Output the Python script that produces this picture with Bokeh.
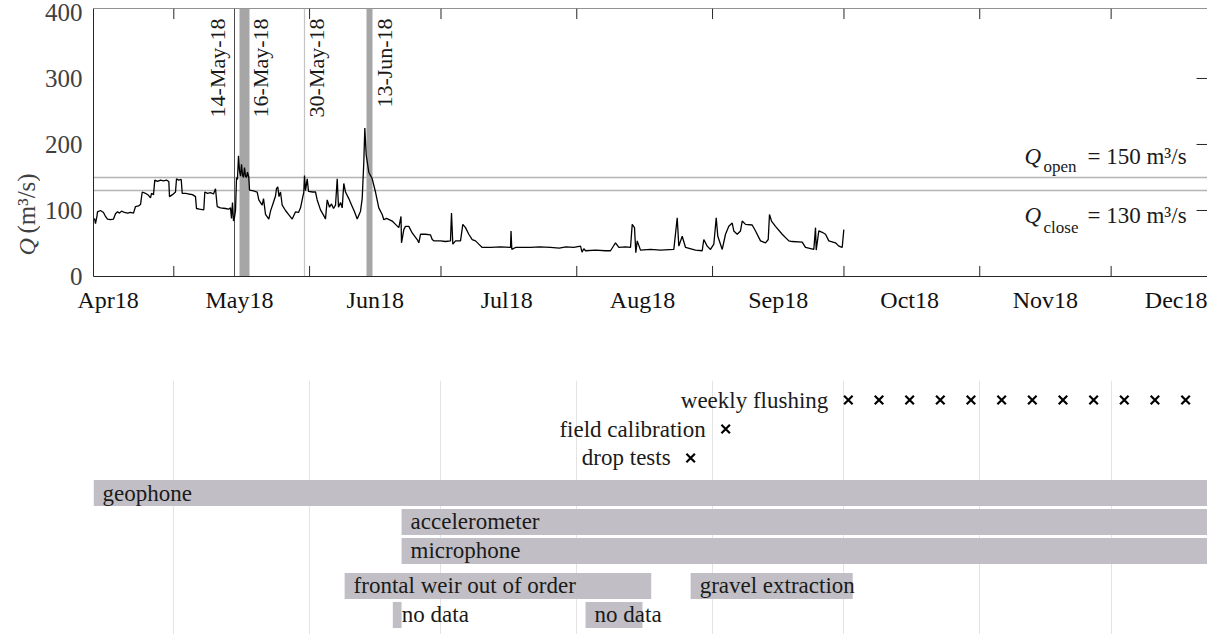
import math
import pandas as pd
from bokeh.plotting import figure
from bokeh.layouts import column, row
from bokeh.models import (Range1d, FactorRange, FixedTicker, DatetimeTickFormatter,
                          Label, ColumnDataSource)
from bokeh.core.properties import value
from bokeh.embed import file_html
from bokeh.resources import INLINE

YEAR0 = pd.Timestamp("2018-01-01")

# ---------------------------------------------------------------- discharge
# time of each reading in days since 1 Jan 2018, discharge Q in m3/s
q_day = [
    101.89, 102.12, 102.47, 102.58, 103.26, 103.95, 104.41, 104.86, 105.55, 106.23,
    106.69, 107.15, 107.60, 108.06, 108.74, 109.43, 110.11, 110.80, 111.26, 111.94,
    112.40, 112.79, 113.54, 114.22, 114.68, 114.91, 115.37, 115.66, 116.28, 116.96,
    117.65, 118.33, 118.86, 119.02, 119.70, 120.39, 120.62, 121.07, 121.69, 121.92,
    122.67, 123.36, 124.27, 124.95, 125.18, 125.87, 126.85, 127.08, 127.69, 128.38,
    129.06, 129.52, 129.91, 130.66, 131.80, 132.49, 132.95, 133.17, 133.40, 133.63,
    133.86,
    134.09, 134.32, 134.54, 134.77, 135.00, 135.23, 135.46, 135.68, 135.91, 136.14,
    136.37, 136.60, 136.83, 137.12, 137.28, 137.97, 139.04, 139.41, 140.18, 140.48,
    140.94, 141.69, 142.08, 142.83, 143.22, 143.45, 143.74, 144.02, 144.36, 144.75,
    145.50, 146.19, 147.03, 147.79, 148.47, 148.93, 149.68, 149.84, 150.07, 150.46,
    150.75, 151.67, 152.35, 152.74, 153.49, 154.18, 154.63, 155.02, 155.55, 156.00,
    156.46, 156.92, 157.31, 157.60, 158.06, 158.45, 158.81, 159.20, 159.95, 160.73,
    161.26, 161.87, 162.63, 163.01, 163.38, 163.61, 163.93, 164.52, 165.30, 166.05,
    166.80, 167.58, 167.95, 168.56, 169.86, 170.62, 171.37, 171.87, 171.99, 172.51,
    172.90, 173.65, 174.43, 175.57, 175.94, 176.32, 177.47, 178.61, 179.00, 179.36,
    180.89, 182.03, 183.17, 183.40, 183.70, 184.32, 185.46, 185.98, 186.60, 187.35,
    188.13, 188.88, 189.63, 190.41, 192.31, 194.59, 196.87, 196.99, 197.17, 198.01,
    199.16, 201.44, 203.50, 206.00, 208.00, 209.50, 211.32,
    212.85, 213.20, 213.61, 214.00, 216.28, 218.56, 219.70, 220.46, 220.84, 221.60,
    223.13, 224.27, 224.66, 225.18, 225.48, 225.80, 226.55, 228.84, 231.12, 234.16,
    234.93, 235.30, 236.07, 236.83,
    239.11, 240.64, 241.00, 241.78, 242.53, 243.29, 243.84, 244.20, 245.21, 245.96,
    246.71, 247.49, 247.85, 248.63, 249.38, 249.77, 250.53, 252.05, 252.81, 253.95,
    255.09, 255.71, 256.00, 256.46, 257.37, 258.90, 260.41, 261.19, 263.47, 264.22,
    266.12, 266.51, 266.67, 267.26, 268.04, 268.79, 269.54, 271.07, 271.83, 272.60,
    272.97,
]
q_val = [
    88, 80, 92, 98, 100, 97, 91, 87, 86, 87,
    95, 98, 96, 99, 97, 96, 97, 96, 106, 107,
    109, 128, 126, 123, 119, 126, 124, 146, 144, 146,
    145, 146, 144, 121, 124, 128, 148, 146, 147, 126,
    126, 125, 124, 121, 103, 102, 101, 128, 126, 127,
    125, 133, 106, 104, 103, 102, 104, 88, 112, 84,
    90,
    100, 150, 147, 183, 160, 152, 170, 154, 150, 165,
    152, 150, 158, 150, 131, 130, 128, 116, 108, 118,
    94, 87, 99, 114, 122, 133, 136, 121, 128, 108,
    100, 94, 87, 98, 97, 104, 128, 153, 130, 148,
    129, 128, 128, 116, 101, 93, 87, 116, 105, 110,
    103, 108, 148, 105, 112, 104, 141, 128, 118, 106,
    98, 87, 99, 118, 173, 225, 184, 158, 148, 128,
    104, 94, 86, 88, 84, 79, 74, 91, 51, 71,
    76, 76, 66, 56, 51, 64, 64, 63, 56, 54,
    54, 53, 54, 96, 49, 54, 54, 79, 74, 64,
    56, 54, 49, 44, 44, 45, 44, 69, 41, 44,
    44, 44, 45, 44, 43, 45, 44,
    46, 37, 42, 39, 40, 39, 39, 47, 51, 44,
    45, 44, 79, 74, 36, 54, 40, 41, 40, 41,
    89, 46, 61, 44,
    40, 39, 56, 46, 41, 49, 89, 61, 41, 64,
    76, 81, 69, 64, 69, 84, 79, 78, 69, 54,
    51, 56, 94, 84, 76, 64, 54, 53, 52, 44,
    41, 74, 40, 69, 67, 64, 54, 51, 46, 44,
    71,
]

q_open = 150
q_close = 130

month_starts = ["2018-05-01", "2018-06-01", "2018-07-01", "2018-08-01",
                "2018-09-01", "2018-10-01", "2018-11-01", "2018-12-01"]
month_label_dates = ["2018-04-16", "2018-05-16", "2018-06-16", "2018-07-16", "2018-08-16",
                     "2018-09-16", "2018-10-16", "2018-11-16", "2018-12-16"]
y_ticks = [0, 100, 200, 300, 400]
right_ticks = [100, 200, 300]

# single-instant events (thin lines) and multi-day operations (bands)
line_times = ["2018-05-14 22:20", "2018-05-30 20:10"]
line_labels = ["14-May-18", "30-May-18"]
band_starts = ["2018-05-16 00:00", "2018-06-13 22:20"]
band_ends = ["2018-05-18 06:40", "2018-06-15 10:30"]
band_labels = ["16-May-18", "13-Jun-18"]

period_start = "2018-04-12 16:00"
period_end = "2018-12-23 00:00"

# ---------------------------------------------------------------- timeline
bar_labels = ["geophone", "accelerometer", "microphone", "frontal weir out of order",
              "no data", "no data", "gravel extraction"]
bar_rows = ["geophone", "accelerometer", "microphone", "frontal weir out of order",
            "no data", "no data", "frontal weir out of order"]
bar_starts = [period_start, "2018-06-22", "2018-06-22", "2018-06-09",
              "2018-06-20", "2018-08-03", "2018-08-27"]
bar_ends = ["2018-12-31", "2018-12-31", "2018-12-31", "2018-08-18",
            "2018-06-22", "2018-08-16", "2018-10-03"]

drop_tests = ["2018-08-27"]
field_calibration = ["2018-09-04"]
weekly_flushing = ["2018-10-02", "2018-10-09", "2018-10-16", "2018-10-23", "2018-10-30",
                   "2018-11-06", "2018-11-13", "2018-11-20", "2018-11-27", "2018-12-04",
                   "2018-12-11", "2018-12-18"]

row_group = {
    "weekly flushing": "events", "field calibration": "events", "drop tests": "events",
    "geophone": "sensors", "accelerometer": "sensors", "microphone": "sensors",
    "frontal weir out of order": "status", "no data": "status",
}
rows_bottom_up = ["no data", "frontal weir out of order", "microphone", "accelerometer",
                  "geophone", "drop tests", "field calibration", "weekly flushing"]


def ms(t):
    return pd.Timestamp(t).value / 1e6


def row_key(name):
    return (row_group[name], name)


SERIF = "Liberation Serif"
DARK = "#262626"
Y_TOP = 406          # a little head-room above the 400 tick

x_range = Range1d(start=ms(period_start), end=ms(period_end))
q_range = Range1d(0, Y_TOP)

# ================================================================ y title strip
# shares the vertical geometry of the discharge panel so both frames line up
title_fig = figure(width=40, height=330, x_range=Range1d(0, 40), y_range=q_range,
                   x_axis_location=None, y_axis_location=None,
                   output_backend="svg", toolbar_location=None,
                   min_border_left=0, min_border_right=0, min_border_top=8, min_border_bottom=54)
title_fig.grid.visible = False
title_fig.outline_line_color = None
title_fig.text(x=[26], y=[32], text=["Q"], angle=math.pi / 2, text_align="left",
               text_baseline="alphabetic", text_font=value(SERIF), text_font_style="italic",
               text_font_size="24px", text_color="#404040")
title_fig.text(x=[26], y=[65], text=["(m³/s)"], angle=math.pi / 2, text_align="left",
               text_baseline="alphabetic", text_font=value(SERIF),
               text_font_size="25px", text_color="#404040")

# ================================================================ discharge panel
top = figure(width=1167, height=330, x_range=x_range, y_range=q_range,
             x_axis_type="datetime", output_backend="svg", toolbar_location=None,
             min_border_left=53, min_border_right=0, min_border_top=8, min_border_bottom=54)
top.outline_line_color = None
top.xgrid.visible = False
top.ygrid.visible = False

xa = top.xaxis[0]
xa.ticker = FixedTicker(ticks=[ms(d) for d in month_label_dates])
xa.formatter = DatetimeTickFormatter(hours="%b%y", days="%b%y", months="%b%y", years="%b%y")
xa.major_tick_in = 0
xa.major_tick_out = 0
xa.minor_tick_in = 0
xa.minor_tick_out = 0
xa.axis_line_color = DARK
xa.major_label_text_font = SERIF
xa.major_label_text_font_size = "24px"
xa.major_label_text_color = "#111111"
xa.major_label_standoff = 10

ya = top.yaxis[0]
ya.ticker = FixedTicker(ticks=y_ticks)
ya.major_tick_in = 0
ya.major_tick_out = 0
ya.minor_tick_in = 0
ya.minor_tick_out = 0
ya.axis_line_color = DARK
ya.major_label_text_font = SERIF
ya.major_label_text_font_size = "25px"
ya.major_label_text_color = "#404040"
ya.major_label_standoff = 11

# top frame edge
top.hspan(y=[Y_TOP], line_color=DARK, line_width=1.2)

# inward month ticks on the bottom and top edges, inward ticks on the right edge
ms_starts = [ms(d) for d in month_starts]
n = len(ms_starts)
top.segment(x0=ms_starts, y0=[0] * n, x1=ms_starts, y1=[16] * n, line_color=DARK, line_width=1)
top.segment(x0=ms_starts, y0=[Y_TOP] * n, x1=ms_starts, y1=[Y_TOP - 16] * n,
            line_color=DARK, line_width=1)
tick_len = 2.5 * 86400000
top.segment(x0=[ms(period_end) - tick_len] * len(right_ticks), y0=right_ticks,
            x1=[ms(period_end)] * len(right_ticks), y1=right_ticks,
            line_color=DARK, line_width=1)

# opening / closing thresholds
top.hspan(y=[q_open, q_close], line_color="#b4b4b4", line_width=1.5)

# events
top.vstrip(x0=[ms(t) for t in band_starts], x1=[ms(t) for t in band_ends],
           fill_color="#a6a6a6", line_color=None)
top.vspan(x=[ms(line_times[0])], line_color="#4d4d4d", line_width=1)
top.vspan(x=[ms(line_times[1])], line_color="#c4c4c4", line_width=1.2)

# discharge series
q_time = [YEAR0 + pd.Timedelta(days=d) for d in q_day]
top.line(x=q_time, y=q_val, line_color="black", line_width=1.3)

ev_style = dict(angle=math.pi / 2, text_font=value(SERIF), text_font_size="22px",
                text_color="#1a1a1a", text_align="right")
top.text(x=[ms(line_times[0])], y=[391], text=[line_labels[0]], x_offset=-5,
         text_baseline="bottom", **ev_style)
top.text(x=[ms(line_times[1])], y=[391], text=[line_labels[1]], x_offset=-1,
         text_baseline="top", **ev_style)
top.text(x=[ms(t) for t in band_ends], y=[391, 391], text=band_labels, x_offset=-1,
         text_baseline="top", **ev_style)

# threshold annotations
for sub, rest, y_main, y_sub in [("open", f"= {q_open} m³/s", 181.8, 166.6),
                                 ("close", f"= {q_close} m³/s", 92.4, 74.2)]:
    top.add_layout(Label(x=ms(period_end), y=y_main, x_offset=-183, text="Q",
                         text_font=SERIF, text_font_style="italic", text_font_size="23px",
                         text_color="#1a1a1a", text_baseline="alphabetic"))
    top.add_layout(Label(x=ms(period_end), y=y_sub, x_offset=-164, text=sub,
                         text_font=SERIF, text_font_size="17px",
                         text_color="#1a1a1a", text_baseline="alphabetic"))
    top.add_layout(Label(x=ms(period_end), y=y_main, x_offset=-120, text=rest,
                         text_font=SERIF, text_font_size="23px",
                         text_color="#1a1a1a", text_baseline="alphabetic"))

# ================================================================ timeline panel
y_range = FactorRange(factors=[row_key(r) for r in rows_bottom_up], group_padding=0.207,
                      factor_padding=0, subgroup_padding=0,
                      range_padding=0.1725, range_padding_units="absolute")
bot = figure(width=1207, height=304, x_range=x_range, y_range=y_range,
             x_axis_type="datetime", output_backend="svg", toolbar_location=None,
             min_border_left=93, min_border_right=0, min_border_top=50, min_border_bottom=0)
bot.outline_line_color = None
bot.xaxis.ticker = FixedTicker(ticks=ms_starts)
bot.xgrid.ticker = FixedTicker(ticks=ms_starts)
bot.xaxis.visible = False
bot.yaxis.visible = False
bot.ygrid.visible = False
bot.xgrid.grid_line_color = "#e3e3e3"
bot.xgrid.grid_line_width = 1

bars = ColumnDataSource(dict(
    row=[row_key(r) for r in bar_rows],
    start=[ms(t) for t in bar_starts],
    end=[ms(t) for t in bar_ends],
    label=bar_labels,
))
bot.hbar(y="row", left="start", right="end", height=0.9, source=bars,
         fill_color="#c1bfc5", line_color=None)
txt_style = dict(text_font=value(SERIF), text_font_size="23px", text_color="#1a1a1a",
                 text_baseline="middle")
bot.text(x="start", y="row", text="label", source=bars, x_offset=9, text_align="left",
         **txt_style)

for name, dates in [("weekly flushing", weekly_flushing),
                    ("field calibration", field_calibration),
                    ("drop tests", drop_tests)]:
    xs = [ms(d) for d in dates]
    bot.scatter(x=xs, y=[row_key(name)] * len(xs), marker="x", size=12, line_width=2.2,
                line_color="black")
    bot.text(x=[xs[0]], y=[row_key(name)], text=[name], x_offset=-20, text_align="right",
             **txt_style)

page = column(row(title_fig, top, spacing=0), bot, spacing=0)
open("out.html", "w").write(file_html(page, INLINE))
